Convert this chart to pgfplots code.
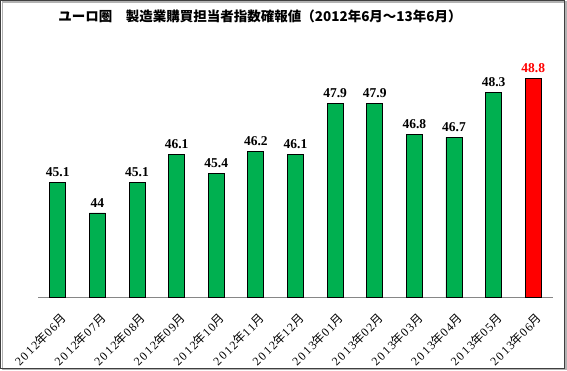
\documentclass[border=0pt]{standalone}
\usepackage{fontspec}
\usepackage{pgfplots}
\pgfplotsset{compat=1.18}
\setmainfont{Liberation Serif}
\newfontfamily\cjk{Noto Sans CJK JP}
\newfontfamily\tickfont[LetterSpace=14]{Liberation Serif}
\newcommand\nen{{\cjk 年}}
\newcommand\tsuki{{\cjk 月}}
\definecolor{xlgreen}{RGB}{0,176,80}
\definecolor{axgray}{RGB}{134,134,134}
\begin{document}
\begin{tikzpicture}[x=1pt,y=1pt]
\begin{axis}[
  at={(0pt,0pt)}, anchor=south west,
  scale only axis, width=515pt, height=252pt,
  xmin=-0.5, xmax=12.5, ymin=41, ymax=50,
  axis y line=none,
  axis x line*=bottom,
  x axis line style={axgray, line width=0.8pt, -},
  xtick={0,...,12},
  major tick length=0pt,
  xticklabels={2012\nen06\tsuki,2012\nen07\tsuki,2012\nen08\tsuki,2012\nen09\tsuki,2012\nen10\tsuki,2012\nen11\tsuki,2012\nen12\tsuki,2013\nen01\tsuki,2013\nen02\tsuki,2013\nen03\tsuki,2013\nen04\tsuki,2013\nen05\tsuki,2013\nen06\tsuki},
  xticklabel style={font=\tickfont\fontsize{12}{12}\selectfont, inner sep=0pt, xshift=2pt, yshift=-15pt, rotate=45, anchor=north east},
  ybar, bar width=16pt,
  clip=false,
  /pgf/number format/assume math mode=true,
  /pgf/number format/fixed, /pgf/number format/precision=1,
  nodes near coords,
  every node near coord/.append style={font=\bfseries\fontsize{13.5}{14}\selectfont, yshift=2pt},
]
\addplot[bar shift=0pt, fill=xlgreen, draw=black, line width=0.8pt] coordinates {
(0,45.1) (1,44) (2,45.1) (3,46.1) (4,45.4) (5,46.2) (6,46.1) (7,47.9) (8,47.9) (9,46.8) (10,46.7) (11,48.3)};
\addplot[bar shift=0pt, fill=red, draw=black, line width=0.8pt, every node near coord/.append style={text=red}] coordinates {(12,48.8)};
\end{axis}
\node[font=\cjk\bfseries\fontsize{13.5}{14}\selectfont] at (222,281) {ユーロ圏　製造業購買担当者指数確報値（2012年6月～13年6月）};
\draw[gray!60, line width=1.5pt] (-35.5,-72.5) rectangle (528,295);
\draw[black!75, line width=1pt] (-37,-72) rectangle (526.5,296);
\pgfresetboundingbox
\path[use as bounding box] (-38,-74) rectangle (529,297);
\end{tikzpicture}
\end{document}
